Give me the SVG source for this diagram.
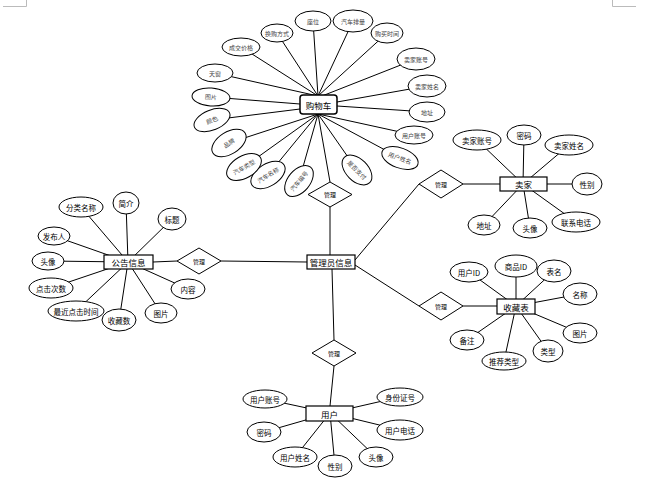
<svg xmlns="http://www.w3.org/2000/svg" width="650" height="482" viewBox="0 0 650 482">
<style>
.bg{fill:#fff}
.ln{stroke:#000;stroke-width:1;fill:none}
.crop{stroke:#bbb;stroke-width:1;fill:none}
.el{fill:#fff;stroke:#000;stroke-width:1}
.bx{fill:#fff;stroke:#000;stroke-width:1.2}
.dm{fill:#fff;stroke:#000;stroke-width:1}
.t{font-family:"Noto Sans CJK SC","Liberation Sans",sans-serif;font-size:7.5px;fill:#000;text-anchor:middle;dominant-baseline:central}
.ts{font-family:"Noto Sans CJK SC","Liberation Sans",sans-serif;font-size:6px;fill:#444;text-anchor:middle;dominant-baseline:central}
.td{font-family:"Noto Sans CJK SC","Liberation Sans",sans-serif;font-size:6px;fill:#000;text-anchor:middle;dominant-baseline:central}
.tb{font-family:"Noto Sans CJK SC","Liberation Sans",sans-serif;font-size:8.5px;fill:#000;text-anchor:middle;dominant-baseline:central}
</style>
<rect class="bg" x="0" y="0" width="650" height="482"/>
<path class="crop" d="M3 6.5H26.5V0M612.5 0V6.5H636"/>
<g id="connectors">
<line class="ln" x1="215" y1="73" x2="318" y2="96"/>
<line class="ln" x1="241" y1="47" x2="318" y2="96"/>
<line class="ln" x1="277" y1="33" x2="318" y2="96"/>
<line class="ln" x1="313" y1="21" x2="318" y2="96"/>
<line class="ln" x1="353" y1="21" x2="318" y2="96"/>
<line class="ln" x1="387" y1="33" x2="318" y2="96"/>
<line class="ln" x1="416" y1="59" x2="322" y2="96"/>
<line class="ln" x1="427" y1="86" x2="337" y2="102"/>
<line class="ln" x1="427" y1="112" x2="337" y2="106"/>
<line class="ln" x1="414" y1="135" x2="318" y2="114"/>
<line class="ln" x1="400" y1="158" x2="318" y2="114"/>
<line class="ln" x1="357" y1="170" x2="318" y2="114"/>
<line class="ln" x1="299" y1="181" x2="318" y2="114"/>
<line class="ln" x1="268" y1="175" x2="318" y2="114"/>
<line class="ln" x1="244" y1="167" x2="318" y2="114"/>
<line class="ln" x1="229" y1="143" x2="318" y2="114"/>
<line class="ln" x1="212" y1="120" x2="300" y2="109"/>
<line class="ln" x1="211" y1="97" x2="300" y2="104"/>
<line class="ln" x1="318" y1="114" x2="330" y2="182"/>
<line class="ln" x1="330" y1="207" x2="330" y2="255"/>
<line class="ln" x1="221" y1="261" x2="307" y2="262"/>
<line class="ln" x1="177" y1="261" x2="153" y2="262"/>
<line class="ln" x1="332" y1="269" x2="334" y2="340"/>
<line class="ln" x1="334" y1="366" x2="330" y2="406"/>
<line class="ln" x1="355" y1="260" x2="419" y2="184"/>
<line class="ln" x1="463" y1="184" x2="500" y2="184"/>
<line class="ln" x1="355" y1="265" x2="419" y2="306"/>
<line class="ln" x1="463" y1="306" x2="497" y2="306"/>
<line class="ln" x1="81" y1="207" x2="128" y2="262"/>
<line class="ln" x1="126" y1="203" x2="128" y2="262"/>
<line class="ln" x1="172" y1="219" x2="128" y2="262"/>
<line class="ln" x1="54" y1="236" x2="128" y2="262"/>
<line class="ln" x1="48" y1="261" x2="128" y2="262"/>
<line class="ln" x1="51" y1="288" x2="128" y2="262"/>
<line class="ln" x1="76" y1="311" x2="128" y2="262"/>
<line class="ln" x1="119" y1="321" x2="128" y2="262"/>
<line class="ln" x1="161" y1="313" x2="128" y2="262"/>
<line class="ln" x1="188" y1="289" x2="128" y2="262"/>
<line class="ln" x1="265" y1="399" x2="330" y2="413"/>
<line class="ln" x1="264" y1="432" x2="330" y2="413"/>
<line class="ln" x1="295" y1="457" x2="330" y2="413"/>
<line class="ln" x1="335" y1="466" x2="330" y2="413"/>
<line class="ln" x1="376" y1="457" x2="330" y2="413"/>
<line class="ln" x1="400" y1="397" x2="330" y2="413"/>
<line class="ln" x1="400" y1="430" x2="330" y2="413"/>
<line class="ln" x1="477" y1="140" x2="523" y2="184"/>
<line class="ln" x1="524" y1="135" x2="523" y2="184"/>
<line class="ln" x1="569" y1="145" x2="523" y2="184"/>
<line class="ln" x1="587" y1="184" x2="523" y2="184"/>
<line class="ln" x1="576" y1="222" x2="523" y2="184"/>
<line class="ln" x1="530" y1="228" x2="523" y2="184"/>
<line class="ln" x1="484" y1="225" x2="523" y2="184"/>
<line class="ln" x1="469" y1="272" x2="516" y2="306"/>
<line class="ln" x1="516" y1="266" x2="516" y2="306"/>
<line class="ln" x1="554" y1="271" x2="516" y2="306"/>
<line class="ln" x1="580" y1="294" x2="516" y2="306"/>
<line class="ln" x1="580" y1="333" x2="516" y2="306"/>
<line class="ln" x1="548" y1="351" x2="516" y2="306"/>
<line class="ln" x1="504" y1="361" x2="516" y2="306"/>
<line class="ln" x1="467" y1="340" x2="516" y2="306"/>
</g>
<g id="cart-attrs">
<g id="a-tianchuang"><ellipse class="el" cx="215" cy="73" rx="18" ry="9"/><text class="ts" x="215" y="73">天窗</text></g>
<g id="a-chengjiao"><ellipse class="el" cx="241" cy="47" rx="19" ry="9"/><text class="ts" x="241" y="47">成交价格</text></g>
<g id="a-huangou"><ellipse class="el" cx="277" cy="33" rx="16" ry="9"/><text class="ts" x="277" y="33">换购方式</text></g>
<g id="a-zuowei"><ellipse class="el" cx="313" cy="21" rx="18" ry="10"/><text class="ts" x="313" y="21">座位</text></g>
<g id="a-pailiang"><ellipse class="el" cx="353" cy="21" rx="20" ry="11"/><text class="ts" x="353" y="21">汽车排量</text></g>
<g id="a-goumai"><ellipse class="el" cx="387" cy="33" rx="16" ry="10"/><text class="ts" x="387" y="33">购买时间</text></g>
<g id="a-maijiazh"><ellipse class="el" cx="416" cy="59" rx="19" ry="11"/><text class="ts" x="416" y="59">卖家账号</text></g>
<g id="a-maijiaxm"><ellipse class="el" cx="427" cy="86" rx="19" ry="11"/><text class="ts" x="427" y="86">卖家姓名</text></g>
<g id="a-dizhi"><ellipse class="el" cx="427" cy="112" rx="18" ry="10"/><text class="ts" x="427" y="112">地址</text></g>
<g id="a-yonghuzh"><ellipse class="el" cx="414" cy="135" rx="19" ry="9"/><text class="ts" x="414" y="135">用户账号</text></g>
<g id="a-yonghuxm" transform="translate(400,158) rotate(20)"><ellipse class="el" cx="0" cy="0" rx="19" ry="10"/><text class="ts" x="0" y="0">用户姓名</text></g>
<g id="a-zhifu" transform="translate(357,170) rotate(45)"><ellipse class="el" cx="0" cy="0" rx="18" ry="11"/><text class="ts" x="0" y="0">是否支付</text></g>
<g id="a-bianhao" transform="translate(299,181) rotate(-50)"><ellipse class="el" cx="0" cy="0" rx="18" ry="11"/><text class="ts" x="0" y="0">汽车编号</text></g>
<g id="a-mingcheng" transform="translate(268,175) rotate(-32)"><ellipse class="el" cx="0" cy="0" rx="19" ry="11"/><text class="ts" x="0" y="0">汽车名称</text></g>
<g id="a-leixing" transform="translate(244,167) rotate(-30)"><ellipse class="el" cx="0" cy="0" rx="19" ry="11"/><text class="ts" x="0" y="0">汽车类型</text></g>
<g id="a-pinpai" transform="translate(229,143) rotate(-32)"><ellipse class="el" cx="0" cy="0" rx="19" ry="11"/><text class="ts" x="0" y="0">品牌</text></g>
<g id="a-yanse" transform="translate(212,120) rotate(-22)"><ellipse class="el" cx="0" cy="0" rx="19" ry="10"/><text class="ts" x="0" y="0">颜色</text></g>
<g id="a-tupian" transform="translate(211,97) rotate(4)"><ellipse class="el" cx="0" cy="0" rx="19" ry="9"/><text class="ts" x="0" y="0">图片</text></g>
</g>
<g id="cart"><rect class="bx" x="300" y="95" width="37" height="19" rx="3" style="stroke-width:1.5"/><text class="tb" x="318.5" y="104.5">购物车</text></g>
<g id="admin"><rect class="bx" x="307" y="255" width="48" height="14"/><text class="tb" x="331" y="262">管理员信息</text></g>
<g id="d-cart"><polygon class="dm" points="330,182 352,194.5 330,207 308,194.5"/><text class="td" x="330" y="194.5">管理</text></g>
<g id="d-notice"><polygon class="dm" points="199,248 221,261 199,274 177,261"/><text class="td" x="199" y="261">管理</text></g>
<g id="d-user"><polygon class="dm" points="334,340 356,353 334,366 312,353"/><text class="td" x="334" y="353">管理</text></g>
<g id="d-seller"><polygon class="dm" points="441,170 463,184 441,198 419,184"/><text class="td" x="441" y="184">管理</text></g>
<g id="d-fav"><polygon class="dm" points="441,292 463,306 441,320 419,306"/><text class="td" x="441" y="306">管理</text></g>
<g id="notice-attrs">
<g id="n-fenlei"><ellipse class="el" cx="81" cy="207" rx="22" ry="10"/><text class="t" x="81" y="207">分类名称</text></g>
<g id="n-jianjie"><ellipse class="el" cx="126" cy="203" rx="13" ry="11"/><text class="t" x="126" y="203">简介</text></g>
<g id="n-biaoti"><ellipse class="el" cx="172" cy="219" rx="14" ry="11"/><text class="t" x="172" y="219">标题</text></g>
<g id="n-fabu"><ellipse class="el" cx="54" cy="236" rx="16" ry="9"/><text class="t" x="54" y="236">发布人</text></g>
<g id="n-touxiang"><ellipse class="el" cx="48" cy="261" rx="16" ry="9"/><text class="t" x="48" y="261">头像</text></g>
<g id="n-dianji"><ellipse class="el" cx="51" cy="288" rx="22" ry="10"/><text class="t" x="51" y="288">点击次数</text></g>
<g id="n-zuijin"><ellipse class="el" cx="76" cy="311" rx="28" ry="10"/><text class="t" x="76" y="311">最近点击时间</text></g>
<g id="n-shoucang"><ellipse class="el" cx="119" cy="320" rx="17" ry="11"/><text class="t" x="119" y="320">收藏数</text></g>
<g id="n-tupian"><ellipse class="el" cx="161" cy="313" rx="16" ry="10"/><text class="t" x="161" y="313">图片</text></g>
<g id="n-neirong"><ellipse class="el" cx="188" cy="289" rx="17" ry="10"/><text class="t" x="188" y="289">内容</text></g>
</g>
<g id="notice"><rect class="bx" x="104" y="255" width="49" height="14"/><text class="tb" x="128.5" y="262">公告信息</text></g>
<g id="user-attrs">
<g id="u-zhanghao"><ellipse class="el" cx="265" cy="399" rx="22" ry="9"/><text class="t" x="265" y="399">用户账号</text></g>
<g id="u-mima"><ellipse class="el" cx="264" cy="432" rx="17" ry="10"/><text class="t" x="264" y="432">密码</text></g>
<g id="u-xingming"><ellipse class="el" cx="295" cy="457" rx="22" ry="10"/><text class="t" x="295" y="457">用户姓名</text></g>
<g id="u-xingbie"><ellipse class="el" cx="335" cy="466" rx="17" ry="11"/><text class="t" x="335" y="466">性别</text></g>
<g id="u-touxiang"><ellipse class="el" cx="376" cy="457" rx="17" ry="10"/><text class="t" x="376" y="457">头像</text></g>
<g id="u-shenfen"><ellipse class="el" cx="400" cy="397" rx="23" ry="9"/><text class="t" x="400" y="397">身份证号</text></g>
<g id="u-dianhua"><ellipse class="el" cx="400" cy="430" rx="23" ry="10"/><text class="t" x="400" y="430">用户电话</text></g>
</g>
<g id="user"><rect class="bx" x="306" y="406" width="47" height="15"/><text class="tb" x="329.5" y="413.5">用户</text></g>
<g id="seller-attrs">
<g id="s-zhanghao"><ellipse class="el" cx="477" cy="140" rx="24" ry="10"/><text class="t" x="477" y="140">卖家账号</text></g>
<g id="s-mima"><ellipse class="el" cx="524" cy="135" rx="17" ry="10"/><text class="t" x="524" y="135">密码</text></g>
<g id="s-xingming"><ellipse class="el" cx="569" cy="145" rx="24" ry="10"/><text class="t" x="569" y="145">卖家姓名</text></g>
<g id="s-xingbie"><ellipse class="el" cx="587" cy="184" rx="15" ry="11"/><text class="t" x="587" y="184">性别</text></g>
<g id="s-dianhua"><ellipse class="el" cx="576" cy="222" rx="24" ry="10"/><text class="t" x="576" y="222">联系电话</text></g>
<g id="s-touxiang"><ellipse class="el" cx="530" cy="228" rx="17" ry="10"/><text class="t" x="530" y="228">头像</text></g>
<g id="s-dizhi"><ellipse class="el" cx="484" cy="225" rx="16" ry="10"/><text class="t" x="484" y="225">地址</text></g>
</g>
<g id="seller"><rect class="bx" x="500" y="177" width="47" height="14"/><text class="tb" x="523.5" y="184">卖家</text></g>
<g id="fav-attrs">
<g id="f-yonghuid"><ellipse class="el" cx="469" cy="272" rx="19" ry="10"/><text class="t" x="469" y="272">用户ID</text></g>
<g id="f-shangpinid"><ellipse class="el" cx="516" cy="266" rx="21" ry="11"/><text class="t" x="516" y="266">商品ID</text></g>
<g id="f-biaoming"><ellipse class="el" cx="554" cy="271" rx="17" ry="11"/><text class="t" x="554" y="271">表名</text></g>
<g id="f-mingcheng"><ellipse class="el" cx="580" cy="294" rx="17" ry="11"/><text class="t" x="580" y="294">名称</text></g>
<g id="f-tupian"><ellipse class="el" cx="580" cy="333" rx="17" ry="10"/><text class="t" x="580" y="333">图片</text></g>
<g id="f-leixing"><ellipse class="el" cx="548" cy="351" rx="15" ry="11"/><text class="t" x="548" y="351">类型</text></g>
<g id="f-tuijian"><ellipse class="el" cx="504" cy="361" rx="22" ry="9"/><text class="t" x="504" y="361">推荐类型</text></g>
<g id="f-beizhu"><ellipse class="el" cx="467" cy="340" rx="17" ry="10"/><text class="t" x="467" y="340">备注</text></g>
</g>
<g id="fav"><rect class="bx" x="497" y="299" width="38" height="15"/><text class="tb" x="516" y="306.5">收藏表</text></g>
</svg>
